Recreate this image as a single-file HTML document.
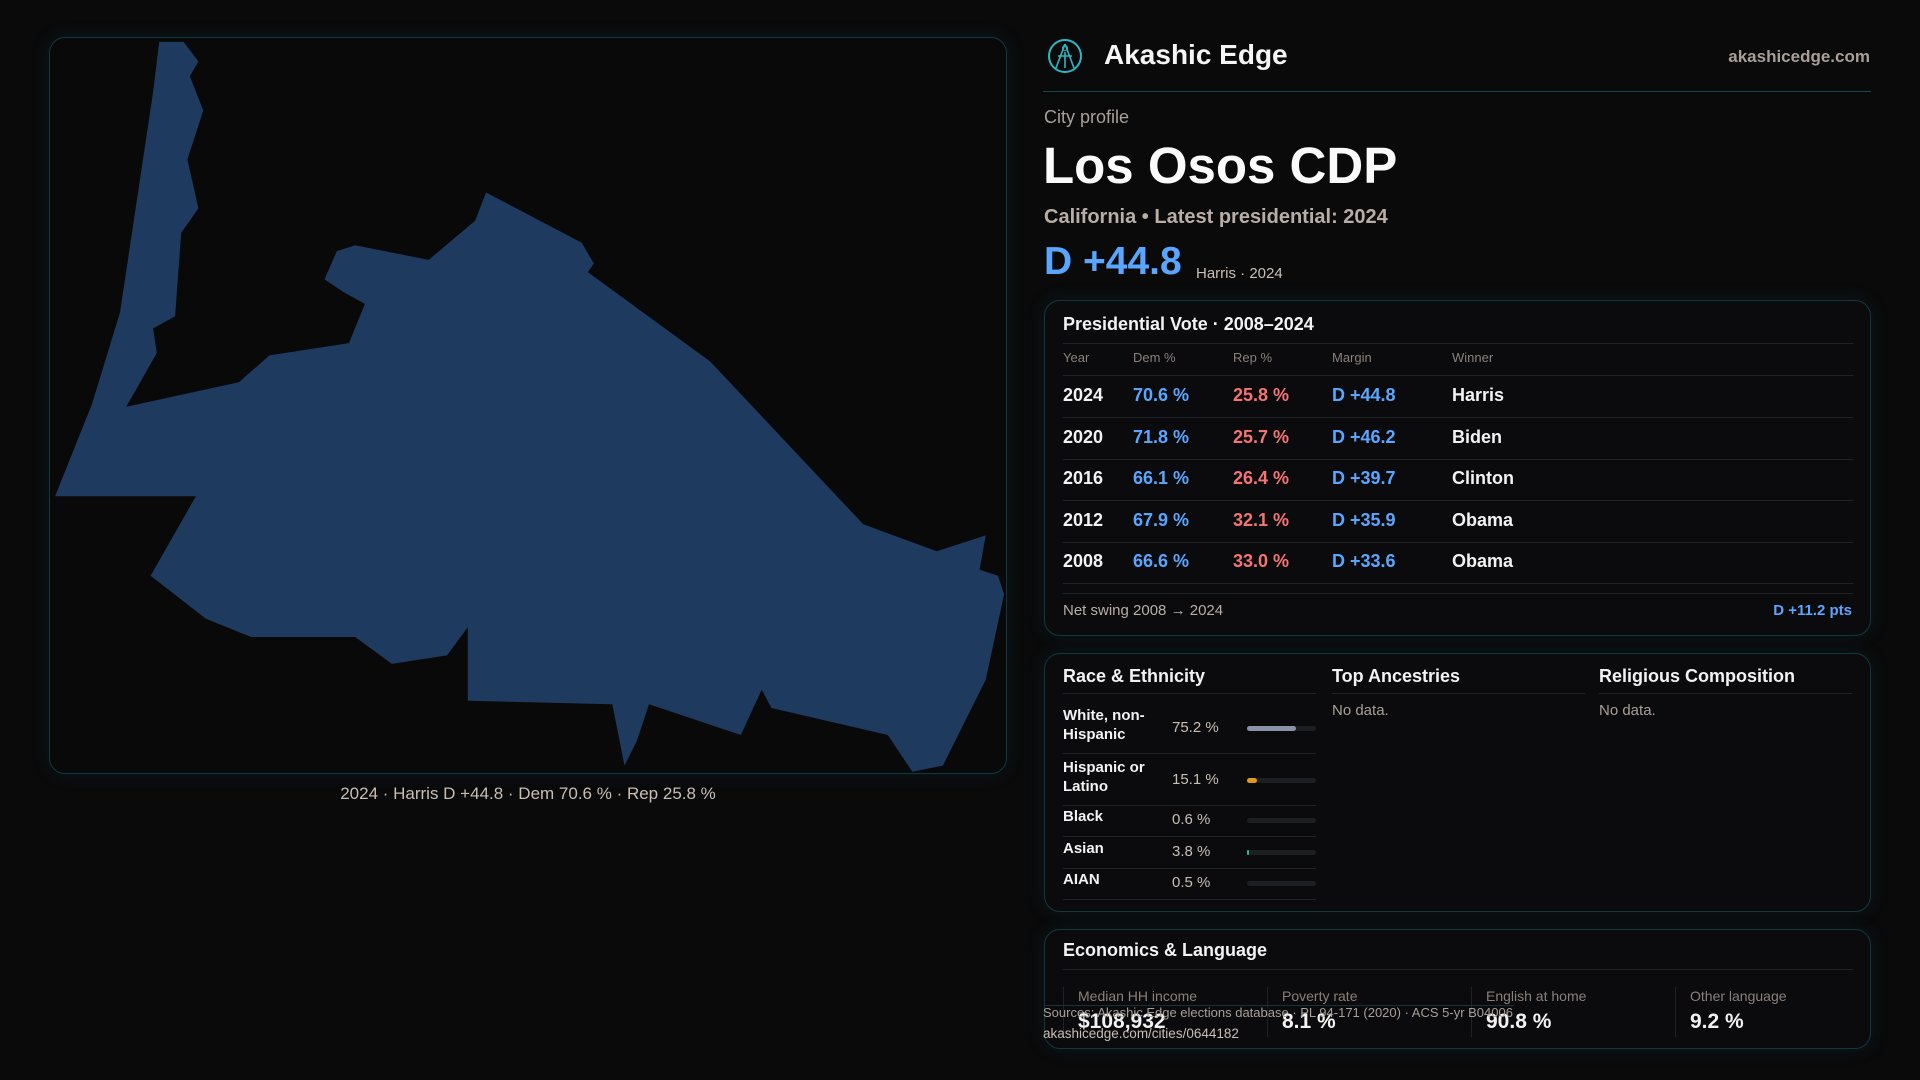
<!DOCTYPE html>
<html><head><meta charset="utf-8"><style>
*{box-sizing:border-box;margin:0;padding:0}
body{width:1920px;height:1080px;background:#0a0a0b;font-family:"Liberation Sans",sans-serif;color:#f2f2f2;position:relative;overflow:hidden}
.a{position:absolute;white-space:nowrap}
.panel{position:absolute;border:1.5px solid #0f3940;border-radius:16px;background:#0b0b0d;box-shadow:0 0 18px rgba(20,90,100,.18)}
.bl{color:#5aa6ff}.rd{color:#f47474}
.hl{position:absolute;height:1px;background:#1e2326}
</style></head><body>
<div class="panel" style="left:49px;top:37px;width:958px;height:737px;background:#09090a">
<svg width="958" height="737" style="position:absolute;left:-1px;top:-1px"><polygon id="shape" fill="#1e3a5f"/></svg>
</div>
<div class="a" style="left:0;width:1056px;text-align:center;top:784px;font-size:17px;color:#c9beb5">2024 · Harris D +44.8 · Dem 70.6 % · Rep 25.8 %</div>

<svg class="a" style="left:1047px;top:38px" width="36" height="36" viewBox="0 0 36 36"><circle cx="18" cy="18" r="16" fill="none" stroke="#2bb7c4" stroke-width="2"/><path d="M18 6 L9 30 M18 6 L27 30 M11 18 L25 18 M18 14 L18 30" stroke="#2bb7c4" stroke-width="1.6" fill="none"/><circle cx="18" cy="10" r="2.5" fill="none" stroke="#2bb7c4"/></svg>
<div class="a" style="left:1104px;top:39px;font-size:28px;font-weight:bold;color:#f5f5f5">Akashic Edge</div>
<div class="a" style="right:50px;top:47px;font-size:17px;font-weight:bold;color:#a89f98">akashicedge.com</div>
<div class="hl" style="left:1043px;width:828px;top:91px;background:#12474e"></div>

<div class="a" style="left:1044px;top:107px;font-size:18px;color:#a89f98">City profile</div>
<div class="a" style="left:1043px;top:136px;font-size:51px;font-weight:bold;color:#fafafa">Los Osos CDP</div>
<div class="a" style="left:1044px;top:206px;font-size:20px;font-weight:bold;color:#b8aea6">California • Latest presidential: 2024</div>
<div class="a bl" style="left:1044px;top:240px;font-size:39px;font-weight:bold">D +44.8</div>
<div class="a" style="left:1196px;top:265px;font-size:15px;color:#c9beb5">Harris · 2024</div>

<div class="panel" style="left:1044px;top:300px;width:827px;height:336px"></div>
<div class="a" style="left:1063px;top:314px;font-size:18px;font-weight:bold">Presidential Vote · 2008–2024</div>
<div class="hl" style="left:1063px;width:790px;top:343px"></div>
<div id="vt"></div>
<div class="hl" style="left:1063px;width:790px;top:593px"></div>
<div class="a" style="left:1063px;top:602px;font-size:15px;color:#b8aea6">Net swing 2008 → 2024</div>
<div class="a bl" style="right:68px;top:602px;font-size:15px;font-weight:bold">D +11.2 pts</div>

<div class="panel" style="left:1044px;top:653px;width:827px;height:259px"></div>
<div class="a" style="left:1063px;top:666px;font-size:18px;font-weight:bold">Race &amp; Ethnicity</div>
<div class="a" style="left:1332px;top:666px;font-size:18px;font-weight:bold">Top Ancestries</div>
<div class="a" style="left:1599px;top:666px;font-size:18px;font-weight:bold">Religious Composition</div>
<div class="hl" style="left:1063px;width:253px;top:693px"></div>
<div class="hl" style="left:1332px;width:253px;top:693px"></div>
<div class="hl" style="left:1599px;width:253px;top:693px"></div>
<div class="a" style="left:1332px;top:702px;font-size:15px;color:#a89f98">No data.</div>
<div class="a" style="left:1599px;top:702px;font-size:15px;color:#a89f98">No data.</div>
<div id="race"></div>

<div class="panel" style="left:1044px;top:929px;width:827px;height:120px"></div>
<div class="a" style="left:1063px;top:940px;font-size:18px;font-weight:bold">Economics &amp; Language</div>
<div class="hl" style="left:1063px;width:790px;top:969px"></div>
<div id="econ"></div>
<div class="hl" style="left:1044px;width:470px;top:1005px;background:#14343a"></div>
<div class="a" style="left:1043px;top:1005px;font-size:13px;color:#a89f98">Sources: Akashic Edge elections database · PL 94-171 (2020) · ACS 5-yr B04006</div>
<div class="a" style="left:1043px;top:1026px;font-size:13.5px;color:#c9beb5">akashicedge.com/cities/0644182</div>

<script>
const mapPts=[[130,34],[150,34],[162,50],[155,62],[166,90],[153,130],[162,170],[148,190],[143,258],[125,268],[128,288],[110,320],[103,332],[195,312],[220,290],[285,280],[298,248],[280,238],[265,228],[275,205],[290,200],[350,212],[388,180],[397,157],[475,198],[485,215],[480,222],[580,295],[705,428],[765,450],[805,437],[800,465],[815,470],[820,485],[805,555],[770,625],[745,630],[725,600],[630,578],[622,563],[605,600],[530,575],[520,605],[510,625],[500,575],[382,572],[382,512],[365,535],[320,542],[290,520],[205,520],[168,505],[123,470],[160,405],[45,405],[75,330],[98,255],[125,75]];
const years=["2024","2020","2016","2012","2008"];
const demPct=[70.6,71.8,66.1,67.9,66.6];
const repPct=[25.8,25.7,26.4,32.1,33.0];
const margins=[44.8,46.2,39.7,35.9,33.6];
const winners=["Harris","Biden","Clinton","Obama","Obama"];
const raceLabels=["White, non-Hispanic","Hispanic or Latino","Black","Asian","AIAN"];
const raceVals=[75.2,15.1,0.6,3.8,0.5];
const econLabels=["Median HH income","Poverty rate","English at home","Other language"];
const econVals=["$108,932","8.1 %","90.8 %","9.2 %"];

const k=1920/1568;
document.getElementById('shape').setAttribute('points',mapPts.map(p=>((p[0]-40)*k).toFixed(1)+','+((p[1]-30)*k).toFixed(1)).join(' '));

function add(parent,html,style,name,inter){const d=document.createElement('div');d.className='a';d.innerHTML=html;d.style.cssText=style;


parent.appendChild(d);return d;}
const vt=document.getElementById('vt');
const cols=[1063,1133,1233,1332,1452];
["Year","Dem %","Rep %","Margin","Winner"].forEach((h,i)=>add(vt,h,`left:${cols[i]}px;top:350px;font-size:13px;color:#8a807a`,'column-header',false));
add(vt,'',`left:1063px;top:375px;width:790px;height:1px;background:#1e2326`,'header-rule',false);
years.forEach((y,i)=>{const top=385+i*41.6;
add(vt,y,`left:${cols[0]}px;top:${top}px;font-size:18px;font-weight:bold`,'row-year',false);
add(vt,demPct[i].toFixed(1)+' %',`left:${cols[1]}px;top:${top}px;font-size:18px;font-weight:bold;color:#5aa6ff`,'row-dem',false);
add(vt,repPct[i].toFixed(1)+' %',`left:${cols[2]}px;top:${top}px;font-size:18px;font-weight:bold;color:#f47474`,'row-rep',false);
const m=margins[i];
add(vt,(m>=0?'D +':'R +')+Math.abs(m).toFixed(1),`left:${cols[3]}px;top:${top}px;font-size:18px;font-weight:bold;color:${m>=0?'#5aa6ff':'#f47474'}`,'row-margin',false);
add(vt,winners[i],`left:${cols[4]}px;top:${top}px;font-size:18px;font-weight:bold`,'row-winner',false);
add(vt,'',`left:1063px;top:${top+32}px;width:790px;height:1px;background:#1e2326`,'row-rule',false);
});
const race=document.getElementById('race');
const rtops=[703,755,804,836,867],rh=[50,50,32,32,32];
const colors=["#8a94a8","#e09a1a","#8a94a8","#20c08a","#8a94a8"];
raceLabels.forEach((l,i)=>{const t=rtops[i];
add(race,l,`left:1063px;top:${t+3}px;width:95px;white-space:normal;font-size:15px;font-weight:bold;line-height:19px`,'race-label',false);
add(race,raceVals[i].toFixed(1)+' %',`left:1172px;top:${t+rh[i]/2-9}px;font-size:15px;color:#c9beb5`,'race-value',false);
add(race,'',`left:1247px;top:${t+rh[i]/2-2}px;width:69px;height:5px;border-radius:3px;background:#1c1e21`,'race-bar-track',false);
const w=69*raceVals[i]/100*0.95;
if(w>=1.5) add(race,'',`left:1247px;top:${t+rh[i]/2-2}px;width:${w}px;height:5px;border-radius:3px;background:${colors[i]}`,'race-bar',false);
add(race,'',`left:1063px;top:${t+rh[i]}px;width:253px;height:1px;background:#1e2326`,'race-rule',false);
});
const econ=document.getElementById('econ');
econLabels.forEach((l,i)=>{const x=1063+i*204;
add(econ,'',`left:${x}px;top:987px;width:1px;height:50px;background:#1e2326`,'econ-divider',false);
add(econ,l,`left:${x+15}px;top:988px;font-size:14px;color:#8a807a`,'econ-label',false);
add(econ,econVals[i],`left:${x+15}px;top:1010px;font-size:21px;font-weight:bold`,'econ-value',false);
});
</script>
</body></html>
